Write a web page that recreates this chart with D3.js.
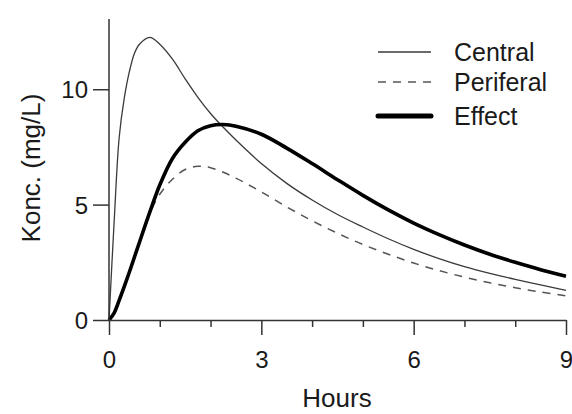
<!DOCTYPE html>
<html>
<head>
<meta charset="utf-8">
<script src="https://cdn.jsdelivr.net/npm/d3@7"></script>
<style>
  body { margin: 0; background: #fff; }
  svg { display: block; }
  text { font-family: "Liberation Sans", Arial, sans-serif; fill: #1a1a1a; }
</style>
</head>
<body>
<svg width="572" height="414"></svg>
<script>
// time points (hours) and concentrations (mg/L)
const hours = [0, 0.1, 0.2, 0.3, 0.4, 0.5, 0.6, 0.8, 1.0, 1.25, 1.5, 1.75, 2.0, 2.25, 2.5, 3.0, 3.5, 4.0, 4.5, 5.0, 5.5, 6.0, 6.5, 7.0, 7.5, 8.0, 8.5, 9.0];
const central = [0, 4.2, 7.9, 9.6, 10.75, 11.55, 11.95, 12.25, 11.95, 11.3, 10.45, 9.65, 8.95, 8.35, 7.8, 6.78, 5.92, 5.2, 4.57, 4.03, 3.52, 3.06, 2.66, 2.31, 2.02, 1.76, 1.52, 1.28];
const periferal = [0, 0.3, 0.85, 1.45, 2.07, 2.72, 3.37, 4.6, 5.45, 6.1, 6.52, 6.66, 6.6, 6.4, 6.15, 5.55, 4.9, 4.3, 3.76, 3.27, 2.85, 2.47, 2.14, 1.86, 1.61, 1.4, 1.21, 1.05];
const effect = [0, 0.3, 0.85, 1.45, 2.07, 2.72, 3.37, 4.65, 5.85, 7.0, 7.7, 8.2, 8.42, 8.47, 8.4, 8.05, 7.45, 6.78, 6.08, 5.4, 4.77, 4.2, 3.7, 3.25, 2.85, 2.5, 2.18, 1.9];

const seriesNames = ["Central", "Periferal", "Effect"];
const xMajor = [0, 3, 6, 9];
const xMinor = [1, 2, 4, 5, 7, 8];
const yTicks = [0, 5, 10];

const svg = d3.select('svg');

const x = d3.scaleLinear().domain([0, 9]).range([109, 566]);
const y = d3.scaleLinear().domain([0, 13]).range([320, 20]);

const styles = {
  Central:   { stroke: '#3a3a3a', width: 1.3, dash: null },
  Periferal: { stroke: '#555',    width: 1.5, dash: '8,7' },
  Effect:    { stroke: '#000',    width: 3.6, dash: null }
};

const series = [
  { name: 'Periferal', values: periferal },
  { name: 'Central', values: central },
  { name: 'Effect', values: effect }
];

const line = d3.line()
  .x((d, i) => x(hours[i]))
  .y(d => y(d))
  .curve(d3.curveCatmullRom.alpha(0.5));

// curves
svg.append('g').selectAll('path').data(series).enter().append('path')
  .attr('d', d => line(d.values))
  .attr('fill', 'none')
  .attr('stroke', d => styles[d.name].stroke)
  .attr('stroke-width', d => styles[d.name].width)
  .attr('stroke-dasharray', d => styles[d.name].dash)
  .attr('stroke-linejoin', 'round');

// y axis
const yAxis = svg.append('g')
  .attr('transform', `translate(${x(0)},0)`)
  .call(d3.axisLeft(y).tickValues(yTicks).tickSize(16).tickSizeOuter(0).tickPadding(5));
yAxis.select('.domain').attr('d', `M0,${y(0)}V19`);
yAxis.selectAll('line, .domain').attr('stroke', '#333').attr('stroke-width', 1.5);
yAxis.selectAll('text').attr('font-size', 24).attr('fill', '#1a1a1a').attr('dy', '0.36em');

// x axis, major and minor ticks
const xAxis = svg.append('g')
  .attr('transform', `translate(0,${y(0)})`)
  .call(d3.axisBottom(x).tickValues(xMajor).tickSize(15).tickSizeOuter(0).tickPadding(16));
xAxis.selectAll('line, .domain').attr('stroke', '#333').attr('stroke-width', 1.5);
xAxis.selectAll('text').attr('font-size', 24).attr('fill', '#1a1a1a');

const xMinorAxis = svg.append('g')
  .attr('transform', `translate(0,${y(0)})`)
  .call(d3.axisBottom(x).tickValues(xMinor).tickSize(7).tickFormat(''));
xMinorAxis.select('.domain').remove();
xMinorAxis.selectAll('line').attr('stroke', '#333').attr('stroke-width', 1.5);

// axis titles
svg.append('text')
  .attr('x', 337).attr('y', 407)
  .attr('text-anchor', 'middle')
  .attr('font-size', 26)
  .text('Hours');

svg.append('text')
  .attr('transform', 'translate(40,168) rotate(-90)')
  .attr('text-anchor', 'middle')
  .attr('font-size', 26)
  .text('Konc. (mg/L)');

// legend
const legendY = [52, 82, 116];
const legend = svg.append('g').selectAll('g').data(seriesNames).enter().append('g')
  .attr('transform', (d, i) => `translate(0,${legendY[i]})`);

legend.append('line')
  .attr('x1', 378).attr('x2', 431)
  .attr('stroke', d => d === 'Effect' ? '#000' : styles[d].stroke)
  .attr('stroke-width', d => d === 'Effect' ? 5 : styles[d].width)
  .attr('stroke-linecap', d => d === 'Effect' ? 'round' : 'butt')
  .attr('stroke-dasharray', d => styles[d].dash);

legend.append('text')
  .attr('x', 454).attr('dy', '0.36em')
  .attr('font-size', 25)
  .text(d => d);
</script>
</body>
</html>
